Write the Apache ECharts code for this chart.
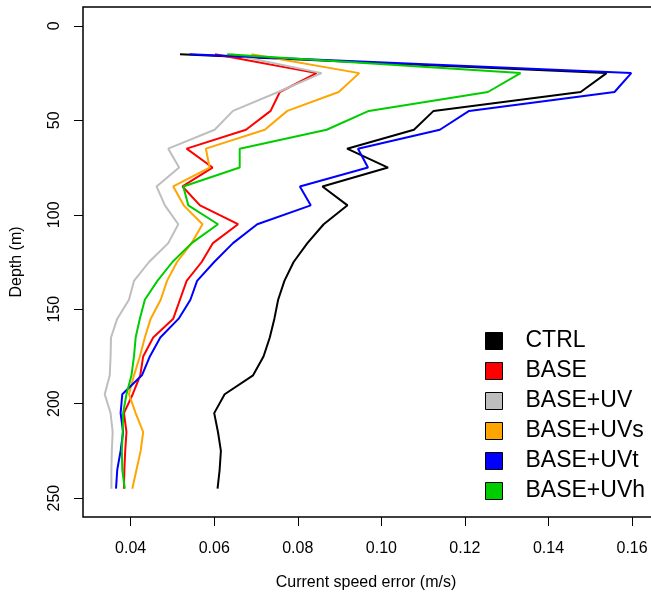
<!DOCTYPE html>
<html>
<head>
<meta charset="utf-8">
<title>Current speed error profile</title>
<script src="https://cdn.jsdelivr.net/npm/echarts@6/dist/echarts.min.js"></script>
<style>
    html, body { margin: 0; padding: 0; background: #fff; }
    #chart { width: 651px; height: 596px; }
</style>
</head>
<body>
<div id="chart"></div>
<script>
// depth levels (m)
var depths = [15, 25, 35, 45, 55, 65, 75, 85, 95, 105, 115, 125, 135, 145, 155, 165, 175, 185, 195, 205, 215, 225, 235, 245];

// current speed error (m/s) per experiment
var ctrl = [0.0518, 0.1539, 0.1477, 0.1125, 0.1078, 0.0918, 0.1016, 0.0859, 0.0919, 0.0862, 0.0823, 0.0790, 0.0768, 0.0753, 0.0744, 0.0733, 0.0718, 0.0693, 0.0625, 0.0600, 0.0609, 0.0616, 0.0613, 0.0608];
var base = [0.0602, 0.0845, 0.0757, 0.0735, 0.0676, 0.0534, 0.0596, 0.0524, 0.0566, 0.0657, 0.0597, 0.0570, 0.0534, 0.0518, 0.0502, 0.0454, 0.0430, 0.0423, 0.0405, 0.0384, 0.0390, 0.0387, 0.0385, 0.0384];
var baseUV = [0.0640, 0.0857, 0.0753, 0.0645, 0.0601, 0.0490, 0.0516, 0.0462, 0.0482, 0.0514, 0.0490, 0.0444, 0.0408, 0.0396, 0.0368, 0.0353, 0.0352, 0.0350, 0.0338, 0.0352, 0.0357, 0.0355, 0.0354, 0.0354];
var baseUVs = [0.0689, 0.0947, 0.0898, 0.0775, 0.0721, 0.0580, 0.0589, 0.0502, 0.0527, 0.0572, 0.0546, 0.0511, 0.0487, 0.0472, 0.0448, 0.0434, 0.0422, 0.0408, 0.0396, 0.0412, 0.0430, 0.0424, 0.0414, 0.0404];
var baseUVt = [0.0541, 0.1598, 0.1558, 0.1210, 0.1140, 0.0944, 0.0968, 0.0805, 0.0831, 0.0703, 0.0645, 0.0600, 0.0559, 0.0543, 0.0515, 0.0471, 0.0446, 0.0427, 0.0380, 0.0376, 0.0382, 0.0376, 0.0368, 0.0365];
var baseUVh = [0.0631, 0.1333, 0.1255, 0.0970, 0.0869, 0.0661, 0.0661, 0.0526, 0.0538, 0.0609, 0.0546, 0.0500, 0.0464, 0.0434, 0.0422, 0.0412, 0.0408, 0.0402, 0.0390, 0.0382, 0.0381, 0.0379, 0.0380, 0.0386];

var names = ['CTRL', 'BASE', 'BASE+UV', 'BASE+UVs', 'BASE+UVt', 'BASE+UVh'];
var colors = ['#000000', '#FF0000', '#BEBEBE', '#FFA500', '#0000FF', '#00CD00'];
var values = [ctrl, base, baseUV, baseUVs, baseUVt, baseUVh];

// tick labels
var xTicks = [0.04, 0.06, 0.08, 0.10, 0.12, 0.14, 0.16];
var yTicks = [0, 50, 100, 150, 200, 250];

var font = "'Liberation Sans', Arial, Helvetica, sans-serif";

var series = names.map(function (name, i) {
    return {
        name: name,
        type: 'line',
        symbol: 'none',
        color: colors[i],
        lineStyle: { color: colors[i], width: 2 },
        data: values[i].map(function (v, j) { return [v, depths[j]]; })
    };
});

var chart = echarts.init(document.getElementById('chart'));
chart.setOption({
    animation: false,
    backgroundColor: '#fff',
    // box runs past the right edge of the canvas, like the original figure
    grid: {
        left: 83,
        top: 7,
        width: 758,
        height: 510,
        outerBoundsMode: 'none',
        show: true,
        borderColor: '#000',
        borderWidth: 1.5
    },
    legend: {
        orient: 'vertical',
        left: 485,
        top: 326,
        padding: 0,
        icon: 'rect',
        itemWidth: 17,
        itemHeight: 17,
        itemGap: 0,
        itemStyle: { borderColor: '#000', borderWidth: 1 },
        textStyle: {
            fontFamily: font,
            fontSize: 23,
            color: '#000',
            lineHeight: 30,
            padding: [0, 0, 0, 18]
        },
        data: names
    },
    graphic: [{
        type: 'text',
        x: 366,
        y: 583,
        style: {
            text: 'Current speed error (m/s)',
            font: '16px ' + font,
            fill: '#000',
            textAlign: 'center',
            textVerticalAlign: 'middle'
        }
    }],
    xAxis: {
        type: 'value',
        min: 0.0286,
        max: 0.21,
        axisLine: { show: false, onZero: false },
        splitLine: { show: false },
        axisTick: {
            show: true,
            length: 9,
            lineStyle: { color: '#000', width: 1 },
            customValues: xTicks
        },
        axisLabel: {
            customValues: xTicks,
            margin: 24,
            fontFamily: font,
            fontSize: 16,
            color: '#000',
            formatter: function (v) { return v.toFixed(2); }
        }
    },
    yAxis: {
        type: 'value',
        inverse: true,
        min: -10,
        max: 260,
        name: 'Depth (m)',
        nameLocation: 'middle',
        nameGap: 58,
        nameTextStyle: { fontFamily: font, fontSize: 16, color: '#000' },
        axisLine: { show: false, onZero: false },
        splitLine: { show: false },
        axisTick: {
            show: true,
            length: 9,
            lineStyle: { color: '#000', width: 1 },
            customValues: yTicks
        },
        axisLabel: {
            customValues: yTicks,
            rotate: 90,
            margin: 20,
            fontFamily: font,
            fontSize: 16,
            color: '#000'
        }
    },
    series: series
});
</script>
</body>
</html>
